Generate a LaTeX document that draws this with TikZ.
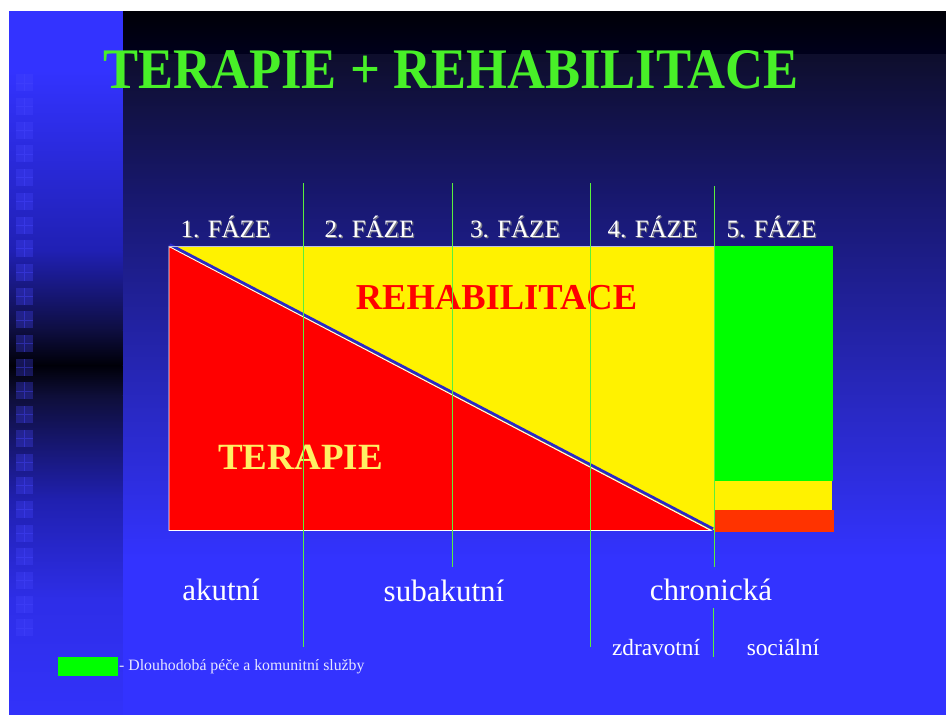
\documentclass[tikz,border=0pt]{standalone}
\usepackage{fontspec}
\setmainfont{Liberation Serif}
\usepackage{graphicx}
\definecolor{ttl}{RGB}{72,240,40}
\definecolor{vline}{RGB}{90,240,60}
\definecolor{bgblue}{RGB}{51,51,255}
\definecolor{sqcol}{RGB}{70,70,255}
\definecolor{terap}{RGB}{255,240,100}
\definecolor{orng}{RGB}{255,51,0}
\definecolor{legtxt}{RGB}{230,230,255}
\definecolor{shadowc}{RGB}{125,125,135}
\definecolor{diagblue}{RGB}{40,40,200}
\definecolor{topline}{RGB}{190,190,225}
\definecolor{m0}{RGB}{0,0,6}
\definecolor{m1}{RGB}{0,0,28}
\definecolor{m2}{RGB}{14,14,44}
\definecolor{m3}{RGB}{24,24,112}
\definecolor{m4}{RGB}{40,40,192}
\definecolor{s1}{RGB}{32,32,180}
\definecolor{s2}{RGB}{14,14,64}
\definecolor{s3}{RGB}{0,0,8}
\definecolor{s4}{RGB}{14,14,56}
\definecolor{s5}{RGB}{32,32,176}
\definecolor{s6}{RGB}{46,46,232}
\definecolor{s7}{RGB}{50,50,250}
\tikzset{
  phase/.style={font=\fontsize{25}{30}\selectfont, inner sep=0pt, anchor=base},
  botlbl/.style={font=\fontsize{31}{36}\selectfont, inner sep=0pt, anchor=base, text=white},
  sublbl/.style={font=\fontsize{23.3}{28}\selectfont, inner sep=0pt, anchor=base, text=white},
  vl/.style={draw=vline, line width=1pt},
  sq/.style={fill=sqcol, fill opacity=0.3},
}
\newcommand{\phaselabel}[3]{%
  \node[phase, text=shadowc] at (#1+1.3,237+1.3) {#3};
  \node[phase, text=white] (#2) at (#1,237) {#3};}
\begin{document}
\begin{tikzpicture}[x=1pt,y=-1pt]
\useasboundingbox (0,0) rectangle (946,715);
\fill[white] (0,0) rectangle (946,715);
% main background
\shade[top color=m0, bottom color=m1] (122,11) rectangle (946,54.5);
\shade[top color=m2, bottom color=m3] (122,54) rectangle (946,200.5);
\shade[top color=m3, bottom color=m4] (122,200) rectangle (946,400.5);
\shade[top color=m4, bottom color=bgblue] (122,400) rectangle (946,560.5);
\fill[bgblue] (122,560) rectangle (946,715);
% left strip
\fill[bgblue] (9,11) rectangle (122.5,70.5);
\shade[top color=bgblue, bottom color=s1] (9,70) rectangle (122.5,250.5);
\shade[top color=s1, bottom color=s2] (9,250) rectangle (122.5,330.5);
\shade[top color=s2, bottom color=s3] (9,330) rectangle (122.5,365.5);
\shade[top color=s3, bottom color=s4] (9,365) rectangle (122.5,395.5);
\shade[top color=s4, bottom color=s5] (9,395) rectangle (122.5,500.5);
\shade[top color=s5, bottom color=s6] (9,500) rectangle (122.5,600.5);
\shade[top color=s6, bottom color=s7] (9,600) rectangle (122.5,715);
% squares
\foreach \k in {-1,...,22} {
  \pgfmathsetmacro{\yy}{98+23.7*\k}
  \fill[sq] (16,\yy) rectangle (33,\yy+17);
  \draw[sqcol, opacity=0.4, line width=0.6pt] (24.5,\yy) -- (24.5,\yy+17) (16,\yy+8.5) -- (33,\yy+8.5);
}
% title
\node[anchor=base west, inner sep=0pt, text=ttl] (title) at (103,88)
  {\resizebox{695pt}{38pt}{\bfseries TERAPIE + REHABILITACE}};
% phase labels
\phaselabel{225.5}{f1}{1. FÁZE}
\phaselabel{369.5}{f2}{2. FÁZE}
\phaselabel{515}{f3}{3. FÁZE}
\phaselabel{652.5}{f4}{4. FÁZE}
\phaselabel{771.5}{f5}{5. FÁZE}
% chart
\fill[yellow] (169,246) rectangle (714,530);
\draw[white, line width=0.9pt, fill=red] (169,246.5) -- (169,530.5) -- (711,530.5) -- cycle;
\draw[diagblue, line width=2.8pt] (169.8,244.6) -- (713,528.8);
\draw[topline, line width=1pt] (169,246) -- (714,246);
\fill[green] (714,246) rectangle (833,481);
\fill[yellow] (714,481) rectangle (832,510);
\fill[orng] (714,510) rectangle (834,532);
% chart labels
\node[anchor=base, inner sep=0pt, text=red, font=\bfseries\fontsize{36.5}{42}\selectfont] (reh) at (496.5,309) {REHABILITACE};
\node[anchor=base, inner sep=0pt, text=terap, font=\bfseries\fontsize{37}{42}\selectfont] (ter) at (300.5,469) {TERAPIE};
% vertical lines
\draw[vl] (303,183) -- (303,647);
\draw[vl] (452,183) -- (452,567);
\draw[vl] (590,183) -- (590,647);
\draw[vl] (714,186) -- (714,567);
\draw[vl] (713,608) -- (713,657);
% bottom labels
\node[botlbl] (ak) at (221,600) {akutní};
\node[botlbl] (sub) at (444,601) {subakutní};
\node[botlbl] (chr) at (711,600) {chronická};
\node[sublbl] (zdr) at (656,655) {zdravotní};
\node[sublbl] (soc) at (783,655) {sociální};
% legend
\fill[green] (58,657) rectangle (118,676);
\node[anchor=base west, inner sep=0pt, text=legtxt, font=\fontsize{15.8}{18}\selectfont] (leg) at (119,670) {- Dlouhodobá péče a komunitní služby};
\end{tikzpicture}
\end{document}
